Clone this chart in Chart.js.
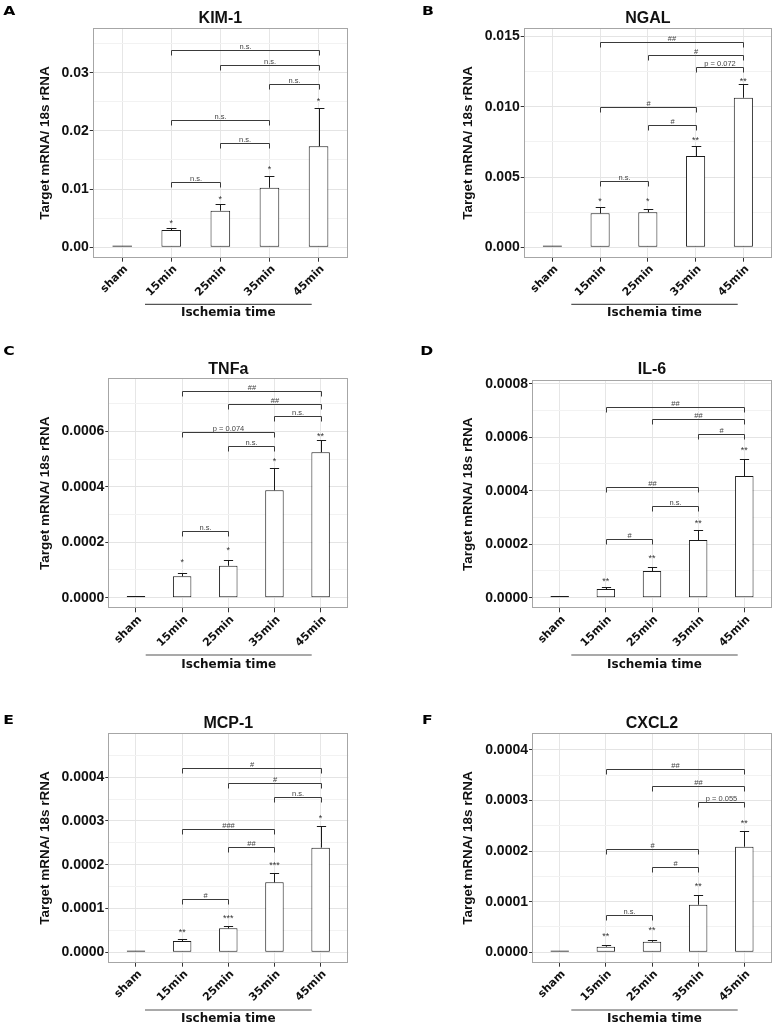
<!DOCTYPE html>
<html><head><meta charset="utf-8">
<script src="https://cdn.jsdelivr.net/npm/chart.js@4/dist/chart.umd.min.js"></script>
<style>
html,body{margin:0;padding:0;background:#fff;}
#fig{position:relative;width:774px;height:1026px;overflow:hidden;}
#fig canvas{position:absolute;}
</style></head><body><div id="fig"></div>
<script>
// ---------- DATA ----------
const categories = ['sham', '15min', '25min', '35min', '45min'];
const bracketPairs = [[1, 2], [2, 3], [1, 3], [3, 4], [2, 4], [1, 4]];
const yAxisTitle = 'Target mRNA/ 18s rRNA';
const groupLabel = 'Ischemia time';

// A  KIM-1
const kim1Mean = [0.00031, 0.00297, 0.00629, 0.01024, 0.01735];
const kim1Upper = [0.00031, 0.00337, 0.00739, 0.01230, 0.02390];
const kim1Stars = ['', '*', '*', '*', '*'];
const kim1StarY = [0, 0.00457, 0.00869, 0.01385, 0.02548];
const kim1BracketY = [0.01122, 0.01797, 0.02192, 0.02800, 0.03130, 0.03390];
const kim1BracketText = ['n.s.', 'n.s.', 'n.s.', 'n.s.', 'n.s.', 'n.s.'];
const kim1Ticks = [0, 0.01, 0.02, 0.03];
const kim1TickLabels = ['0.00', '0.01', '0.02', '0.03'];
const kim1Minor = [0.005, 0.015, 0.025, 0.035];
const kim1Range = [-0.00179, 0.03763];

// B  NGAL
const ngalMean = [0.000128, 0.00242, 0.00249, 0.00649, 0.01064];
const ngalUpper = [0.000128, 0.00284, 0.00272, 0.00720, 0.01159];
const ngalStars = ['', '*', '*', '**', '**'];
const ngalStarY = [0, 0.00341, 0.00341, 0.00775, 0.01197];
const ngalBracketY = [0.00472, 0.00868, 0.00998, 0.01282, 0.01368, 0.01458];
const ngalBracketText = ['n.s.', '#', '#', 'p = 0.072', '#', '##'];
const ngalTicks = [0, 0.005, 0.010, 0.015];
const ngalTickLabels = ['0.000', '0.005', '0.010', '0.015'];
const ngalMinor = [0.0025, 0.0075, 0.0125];
const ngalRange = [-0.00074, 0.01558];

// C  TNFa
const tnfMean = [0.0000065, 0.0000773, 0.0001155, 0.0003877, 0.000525];
const tnfUpper = [0.0000065, 0.0000892, 0.000136, 0.000469, 0.000568];
const tnfStars = ['', '*', '*', '*', '**'];
const tnfStarY = [0, 0.000136, 0.0001805, 0.000501, 0.000592];
const tnfBracketY = [0.0002408, 0.0005477, 0.000597, 0.000655, 0.000699, 0.000745];
const tnfBracketText = ['n.s.', 'n.s.', 'p = 0.074', 'n.s.', '##', '##'];
const tnfTicks = [0, 0.0002, 0.0004, 0.0006];
const tnfTickLabels = ['0.0000', '0.0002', '0.0004', '0.0006'];
const tnfMinor = [0.0001, 0.0003, 0.0005, 0.0007];
const tnfRange = [-0.0000383, 0.000792];

// D  IL-6
const il6Mean = [0.0000067, 0.0000325, 0.0000998, 0.0002157, 0.000455];
const il6Upper = [0.0000067, 0.0000389, 0.000116, 0.000253, 0.000517];
const il6Stars = ['', '**', '**', '**', '**'];
const il6StarY = [0, 0.000071, 0.000155, 0.000287, 0.000558];
const il6BracketY = [0.000218, 0.000343, 0.000415, 0.000612, 0.000668, 0.000712];
const il6BracketText = ['#', 'n.s.', '##', '#', '##', '##'];
const il6Ticks = [0, 0.0002, 0.0004, 0.0006, 0.0008];
const il6TickLabels = ['0.0000', '0.0002', '0.0004', '0.0006', '0.0008'];
const il6Minor = [0.0001, 0.0003, 0.0005, 0.0007];
const il6Range = [-0.0000396, 0.000814];

// E  MCP-1
const mcpMean = [0.0000041, 0.0000258, 0.0000548, 0.0001598, 0.000239];
const mcpUpper = [0.0000041, 0.0000297, 0.0000607, 0.000180, 0.000288];
const mcpStars = ['', '**', '***', '***', '*'];
const mcpStarY = [0, 0.0000509, 0.0000829, 0.0002046, 0.000312];
const mcpBracketY = [0.0001217, 0.000241, 0.0002815, 0.000354, 0.000387, 0.0004215];
const mcpBracketText = ['#', '##', '###', 'n.s.', '#', '#'];
const mcpTicks = [0, 0.0001, 0.0002, 0.0003, 0.0004];
const mcpTickLabels = ['0.0000', '0.0001', '0.0002', '0.0003', '0.0004'];
const mcpMinor = [0.00005, 0.00015, 0.00025, 0.00035, 0.00045];
const mcpRange = [-0.0000237, 0.0005];

// F  CXCL2
const cxclMean = [0.0000036, 0.0000111, 0.0000209, 0.000094, 0.0002085];
const cxclUpper = [0.0000036, 0.0000138, 0.0000249, 0.0001137, 0.000239];
const cxclStars = ['', '**', '**', '**', '**'];
const cxclStarY = [0, 0.0000355, 0.0000486, 0.0001348, 0.000259];
const cxclBracketY = [0.0000736, 0.000169, 0.0002046, 0.0002967, 0.0003283, 0.0003613];
const cxclBracketText = ['n.s.', '#', '#', 'p = 0.055', '##', '##'];
const cxclTicks = [0, 0.0001, 0.0002, 0.0003, 0.0004];
const cxclTickLabels = ['0.0000', '0.0001', '0.0002', '0.0003', '0.0004'];
const cxclMinor = [0.00005, 0.00015, 0.00025, 0.00035];
const cxclRange = [-0.0000205, 0.0004324];

// ---------- LAYOUT (pixels, relative to each panel canvas) ----------
const panels = [
  {letter:'A', title:'KIM-1', mean:kim1Mean, upper:kim1Upper, stars:kim1Stars, starY:kim1StarY, bY:kim1BracketY, bT:kim1BracketText, ticks:kim1Ticks, tickLabels:kim1TickLabels, minor:kim1Minor, range:kim1Range,
   cx:0, cy:0, w:387, h:340, L:92.7, T:28.3, R:348, B:257.7, yTitleX:45.7, titleY:19, letterX:3.3, letterBase:15.3, lineX:[145,311.7], lineY:304.3, groupY:313.3},
  {letter:'B', title:'NGAL', mean:ngalMean, upper:ngalUpper, stars:ngalStars, starY:ngalStarY, bY:ngalBracketY, bT:ngalBracketText, ticks:ngalTicks, tickLabels:ngalTickLabels, minor:ngalMinor, range:ngalRange,
   cx:387, cy:0, w:387, h:340, L:136.7, T:28.3, R:385, B:257.7, yTitleX:81.7, titleY:19, letterX:35, letterBase:15.3, lineX:[184.3,350.7], lineY:304.3, groupY:313.3},
  {letter:'C', title:'TNFa', mean:tnfMean, upper:tnfUpper, stars:tnfStars, starY:tnfStarY, bY:tnfBracketY, bT:tnfBracketText, ticks:tnfTicks, tickLabels:tnfTickLabels, minor:tnfMinor, range:tnfRange,
   cx:0, cy:340, w:387, h:340, L:108.3, T:38.3, R:348.3, B:268.3, yTitleX:45.7, titleY:29.3, letterX:3.3, letterBase:15.3, lineX:[145.7,311.7], lineY:315, groupY:325},
  {letter:'D', title:'IL-6', mean:il6Mean, upper:il6Upper, stars:il6Stars, starY:il6StarY, bY:il6BracketY, bT:il6BracketText, ticks:il6Ticks, tickLabels:il6TickLabels, minor:il6Minor, range:il6Range,
   cx:387, cy:340, w:387, h:340, L:145, T:40, R:385, B:268.3, yTitleX:81.7, titleY:29.3, letterX:33.3, letterBase:15.3, lineX:[184.3,350.7], lineY:315, groupY:325},
  {letter:'E', title:'MCP-1', mean:mcpMean, upper:mcpUpper, stars:mcpStars, starY:mcpStarY, bY:mcpBracketY, bT:mcpBracketText, ticks:mcpTicks, tickLabels:mcpTickLabels, minor:mcpMinor, range:mcpRange,
   cx:0, cy:680, w:387, h:346, L:108.3, T:53.3, R:348.3, B:282.7, yTitleX:45.7, titleY:43.3, letterX:3.3, letterBase:44.3, lineX:[145,311.7], lineY:330, groupY:339.3},
  {letter:'F', title:'CXCL2', mean:cxclMean, upper:cxclUpper, stars:cxclStars, starY:cxclStarY, bY:cxclBracketY, bT:cxclBracketText, ticks:cxclTicks, tickLabels:cxclTickLabels, minor:cxclMinor, range:cxclRange,
   cx:387, cy:680, w:387, h:346, L:145, T:53.3, R:385, B:282.7, yTitleX:81.7, titleY:43.3, letterX:35, letterBase:44.3, lineX:[184.3,350.7], lineY:330, groupY:339.3}
];

const XAXIS_H = 40;
const TICK_FONT = {family:'"Liberation Sans", Arial, sans-serif', weight:'bold', size:14};
const YTITLE_FONT = {family:'"Liberation Sans", Arial, sans-serif', weight:'bold', size:13.5};
const XTICK_FONT = {family:'"DejaVu Sans", sans-serif', weight:'bold', size:11};

function isClose(a, b) { return Math.abs(a - b) < 1e-12; }

function makePlugin(p) {
  return {
    id: 'annot' + p.letter,
    afterDatasetsDraw(chart) {
      const ctx = chart.ctx, xs = chart.scales.x, ys = chart.scales.y;
      const meta = chart.getDatasetMeta(0);
      ctx.save();
      // error bars (upper whisker only)
      ctx.strokeStyle = '#1a1a1a'; ctx.lineWidth = 1;
      p.mean.forEach((m, i) => {
        if (p.upper[i] <= m) return;
        const bar = meta.data[i];
        const x = Math.round(bar.x) + 0.5;
        const y0 = ys.getPixelForValue(m), y1 = Math.round(ys.getPixelForValue(p.upper[i])) + 0.5;
        const half = bar.width * 0.25;
        ctx.beginPath();
        ctx.moveTo(x, y0); ctx.lineTo(x, y1);
        ctx.moveTo(x - half, y1); ctx.lineTo(x + half, y1);
        ctx.stroke();
      });
      // significance stars
      ctx.fillStyle = '#333';
      ctx.font = '9px "Liberation Sans", Arial, sans-serif';
      ctx.textAlign = 'center'; ctx.textBaseline = 'alphabetic';
      p.stars.forEach((s, i) => {
        if (!s) return;
        ctx.fillText(s, xs.getPixelForValue(i), ys.getPixelForValue(p.starY[i]) + 9 * 0.55);
      });
      // comparison brackets
      ctx.strokeStyle = '#3a3a3a'; ctx.lineWidth = 1;
      ctx.font = '7.5px "Liberation Sans", Arial, sans-serif';
      ctx.fillStyle = '#444';
      bracketPairs.forEach(([a, b], k) => {
        const xa = Math.round(xs.getPixelForValue(a)) + 0.5;
        const xb = Math.round(xs.getPixelForValue(b)) + 0.5;
        const y = Math.round(ys.getPixelForValue(p.bY[k])) + 0.5;
        ctx.beginPath();
        ctx.moveTo(xa, y + 5); ctx.lineTo(xa, y); ctx.lineTo(xb, y); ctx.lineTo(xb, y + 5);
        ctx.stroke();
        ctx.fillText(p.bT[k], (xa + xb) / 2, y - 2);
      });
      ctx.restore();
    },
    afterDraw(chart) {
      const ctx = chart.ctx, a = chart.chartArea;
      ctx.save();
      // panel border
      ctx.strokeStyle = '#a6a6a6'; ctx.lineWidth = 1;
      ctx.strokeRect(Math.round(a.left) + 0.5, Math.round(a.top) + 0.5, Math.round(a.right) - Math.round(a.left) - 1, Math.round(a.bottom) - Math.round(a.top) - 1);
      // title
      ctx.fillStyle = '#111';
      ctx.font = 'bold 16px "Liberation Sans", Arial, sans-serif';
      ctx.textAlign = 'center'; ctx.textBaseline = 'middle';
      ctx.fillText(p.title, (a.left + a.right) / 2, p.titleY);
      // panel letter
      ctx.save();
      ctx.translate(p.letterX, p.letterBase);
      ctx.scale(1.2, 1);
      ctx.font = 'bold 13px "DejaVu Sans", sans-serif';
      ctx.textAlign = 'left'; ctx.textBaseline = 'alphabetic';
      ctx.fillStyle = '#000';
      ctx.fillText(p.letter, 0, 0);
      ctx.restore();
      // group line + label
      ctx.strokeStyle = '#555'; ctx.lineWidth = 1.2;
      ctx.beginPath();
      ctx.moveTo(p.lineX[0], p.lineY); ctx.lineTo(p.lineX[1], p.lineY);
      ctx.stroke();
      ctx.fillStyle = '#111';
      ctx.font = 'bold 12px "DejaVu Sans", sans-serif';
      ctx.textAlign = 'center'; ctx.textBaseline = 'middle';
      ctx.fillText(groupLabel, (p.lineX[0] + p.lineX[1]) / 2, p.groupY);
      ctx.restore();
    }
  };
}

const fig = document.getElementById('fig');
panels.forEach(p => {
  const cv = document.createElement('canvas');
  cv.width = p.w; cv.height = p.h;
  cv.style.left = p.cx + 'px'; cv.style.top = p.cy + 'px';
  cv.style.width = p.w + 'px'; cv.style.height = p.h + 'px';
  fig.appendChild(cv);
  const allY = p.ticks.concat(p.minor).sort((u, v) => u - v);
  const isMajor = v => p.ticks.some(t => isClose(t, v));
  new Chart(cv.getContext('2d'), {
    type: 'bar',
    data: {
      datasets: [{
        data: p.mean.map((v, i) => ({x: i, y: v})),
        backgroundColor: '#ffffff',
        borderColor: '#1a1a1a',
        borderWidth: 1,
        borderSkipped: false,
        barPercentage: 0.4,
        categoryPercentage: 1
      }]
    },
    options: {
      responsive: false,
      animation: false,
      devicePixelRatio: 1,
      layout: {padding: {left: 0, top: p.T, right: p.w - p.R, bottom: p.h - p.B - XAXIS_H}},
      plugins: {legend: {display: false}, tooltip: {enabled: false}, title: {display: false}},
      scales: {
        x: {
          type: 'linear', min: -0.6, max: 4.6, offset: false,
          afterBuildTicks: s => { s.ticks = categories.map((c, i) => ({value: i})); },
          afterFit: s => { s.height = XAXIS_H; },
          ticks: {
            callback: v => categories[v] !== undefined ? categories[v] : '',
            autoSkip: false, minRotation: 45, maxRotation: 45,
            font: XTICK_FONT, color: '#111', padding: 1, labelOffset: 4
          },
          grid: {offset: false, color: '#e6e6e6', tickColor: '#333', tickLength: 4, lineWidth: 1},
          border: {display: false}
        },
        y: {
          min: p.range[0], max: p.range[1],
          afterBuildTicks: s => { s.ticks = allY.map(v => ({value: v})); },
          afterFit: s => { s.width = p.L; },
          ticks: {
            callback: v => { const i = p.ticks.findIndex(t => isClose(t, v)); return i >= 0 ? p.tickLabels[i] : ''; },
            font: TICK_FONT, color: '#111', padding: 1, autoSkip: false
          },
          grid: {
            color: c => (c.tick && isMajor(c.tick.value)) ? '#e4e4e4' : '#f2f2f2',
            tickColor: c => (c.tick && isMajor(c.tick.value)) ? '#333' : 'rgba(0,0,0,0)',
            tickLength: 3, lineWidth: 1
          },
          border: {display: false},
          title: {
            display: true, text: yAxisTitle, font: YTITLE_FONT, color: '#111',
            padding: {top: p.yTitleX - YTITLE_FONT.size * 0.6, bottom: 0}
          }
        }
      }
    },
    plugins: [makePlugin(p)]
  });
});
</script>
</body></html>
